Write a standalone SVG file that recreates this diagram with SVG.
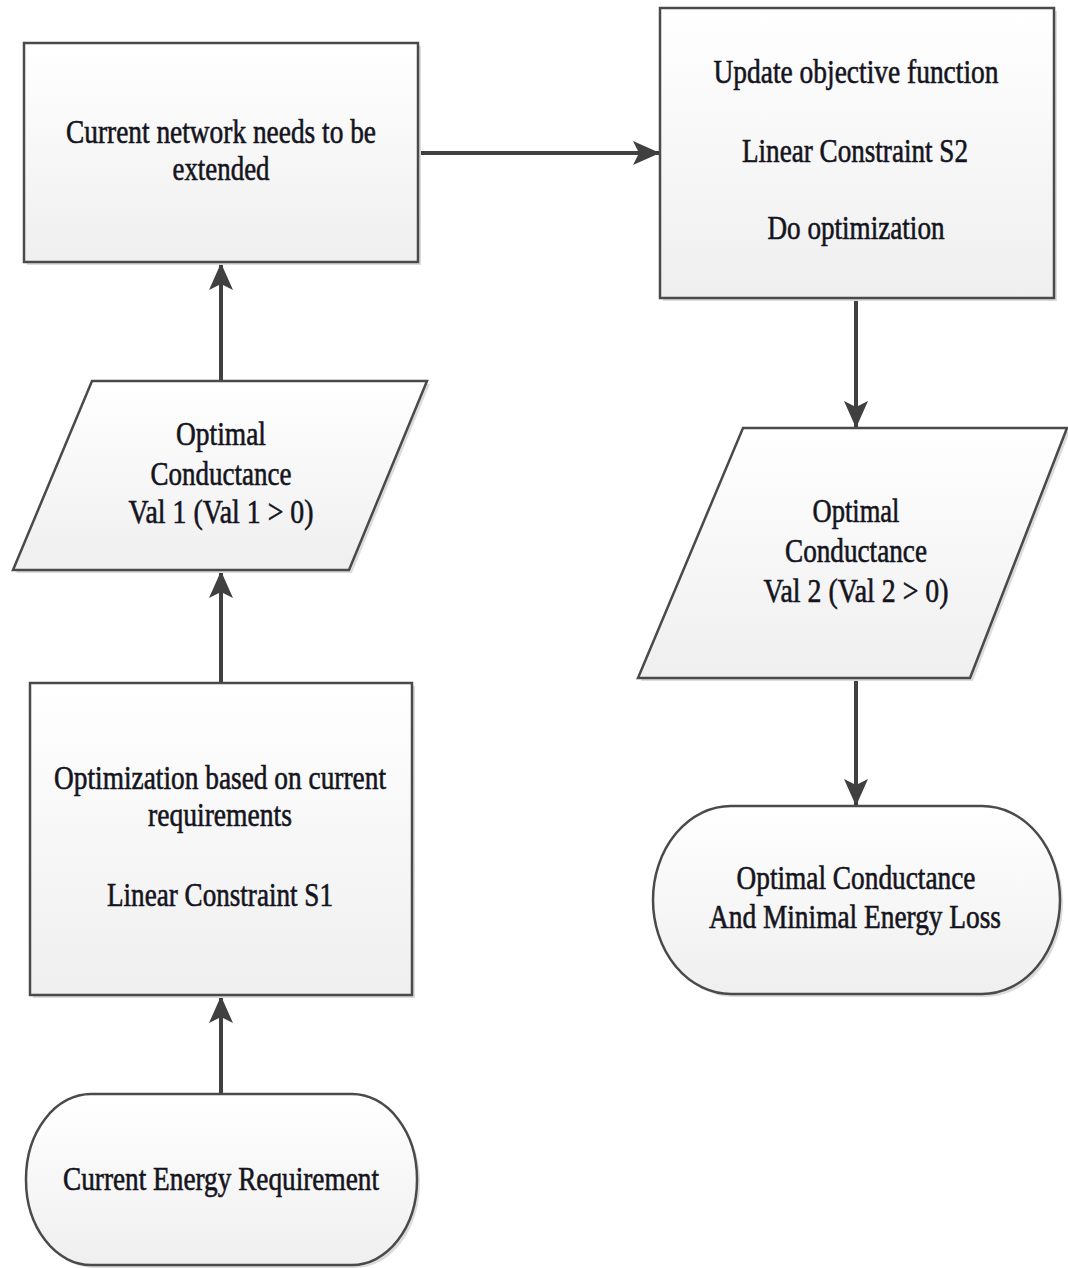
<svg xmlns="http://www.w3.org/2000/svg" width="1068" height="1268" viewBox="0 0 1068 1268">
<style>
.shape{fill:url(#g);stroke:#4a4a4a;stroke-width:2.5}
.shadow{fill:#dcdcdc;stroke:none}
.t{font-family:'Liberation Serif','Times New Roman',serif;font-size:34px;fill:#141420;stroke:#141420;stroke-width:0.6;text-anchor:middle}
.c{stroke:#404040;stroke-width:4;fill:none;marker-end:url(#ah)}
</style>
<defs>
<linearGradient id="g" x1="0" y1="0" x2="0" y2="1">
<stop offset="0" stop-color="#ffffff"/>
<stop offset="1" stop-color="#efefef"/>
</linearGradient>
<marker id="ah" markerUnits="userSpaceOnUse" markerWidth="28" markerHeight="26" refX="27" refY="13" orient="auto">
<path d="M0,1 L27,13 L0,25 L6,13 z" fill="#404040"/>
</marker>
</defs>
<rect width="1068" height="1268" fill="#ffffff"/>
<g id="connectors">
<line class="c" x1="221" y1="1094" x2="221" y2="996"/>
<line class="c" x1="221" y1="683" x2="221" y2="571"/>
<line class="c" x1="221" y1="381" x2="221" y2="263"/>
<line class="c" x1="418" y1="153" x2="660" y2="153"/>
<line class="c" x1="856" y1="298" x2="856" y2="428"/>
<line class="c" x1="856" y1="678" x2="856" y2="806"/>
</g>
<g id="extend">
<rect class="shadow" x="27" y="46" width="394" height="219"/>
<rect class="shape" x="24" y="43" width="394" height="219"/>
<text class="t" x="221" y="143" textLength="310" lengthAdjust="spacingAndGlyphs">Current network needs to be</text>
<text class="t" x="221" y="180" textLength="97" lengthAdjust="spacingAndGlyphs">extended</text>
</g>
<g id="val1">
<polygon class="shadow" points="95,384 430,384 352,573 16,573"/>
<polygon class="shape" points="92,381 427,381 349,570 13,570"/>
<text class="t" x="221" y="445" textLength="90" lengthAdjust="spacingAndGlyphs">Optimal</text>
<text class="t" x="221" y="485" textLength="141" lengthAdjust="spacingAndGlyphs">Conductance</text>
<text class="t" x="221" y="523" textLength="185" lengthAdjust="spacingAndGlyphs">Val 1 (Val 1 &gt; 0)</text>
</g>
<g id="opt1">
<rect class="shadow" x="33" y="686" width="382" height="312"/>
<rect class="shape" x="30" y="683" width="382" height="312"/>
<text class="t" x="220" y="789" textLength="332" lengthAdjust="spacingAndGlyphs">Optimization based on current</text>
<text class="t" x="220" y="826" textLength="144" lengthAdjust="spacingAndGlyphs">requirements</text>
<text class="t" x="220" y="906" textLength="226" lengthAdjust="spacingAndGlyphs">Linear Constraint S1</text>
</g>
<g id="start">
<rect class="shadow" x="29" y="1097" width="391" height="171" rx="65" ry="85"/>
<rect class="shape" x="26" y="1094" width="391" height="171" rx="65" ry="85"/>
<text class="t" x="221" y="1190" textLength="316" lengthAdjust="spacingAndGlyphs">Current Energy Requirement</text>
</g>
<g id="update">
<rect class="shadow" x="663" y="11" width="394" height="290"/>
<rect class="shape" x="660" y="8" width="394" height="290"/>
<text class="t" x="856" y="83" textLength="285" lengthAdjust="spacingAndGlyphs">Update objective function</text>
<text class="t" x="855" y="162" textLength="226" lengthAdjust="spacingAndGlyphs">Linear Constraint S2</text>
<text class="t" x="856" y="239" textLength="177" lengthAdjust="spacingAndGlyphs">Do optimization</text>
</g>
<g id="val2">
<polygon class="shadow" points="746,431 1070,431 973,681 641,681"/>
<polygon class="shape" points="743,428 1067,428 970,678 638,678"/>
<text class="t" x="856" y="522" textLength="87" lengthAdjust="spacingAndGlyphs">Optimal</text>
<text class="t" x="856" y="562" textLength="142" lengthAdjust="spacingAndGlyphs">Conductance</text>
<text class="t" x="856" y="602" textLength="185" lengthAdjust="spacingAndGlyphs">Val 2 (Val 2 &gt; 0)</text>
</g>
<g id="end">
<rect class="shadow" x="656" y="809" width="407" height="188" rx="78" ry="94"/>
<rect class="shape" x="653" y="806" width="407" height="188" rx="78" ry="94"/>
<text class="t" x="856" y="889" textLength="239" lengthAdjust="spacingAndGlyphs">Optimal Conductance</text>
<text class="t" x="855" y="928" textLength="292" lengthAdjust="spacingAndGlyphs">And Minimal Energy Loss</text>
</g>
</svg>
